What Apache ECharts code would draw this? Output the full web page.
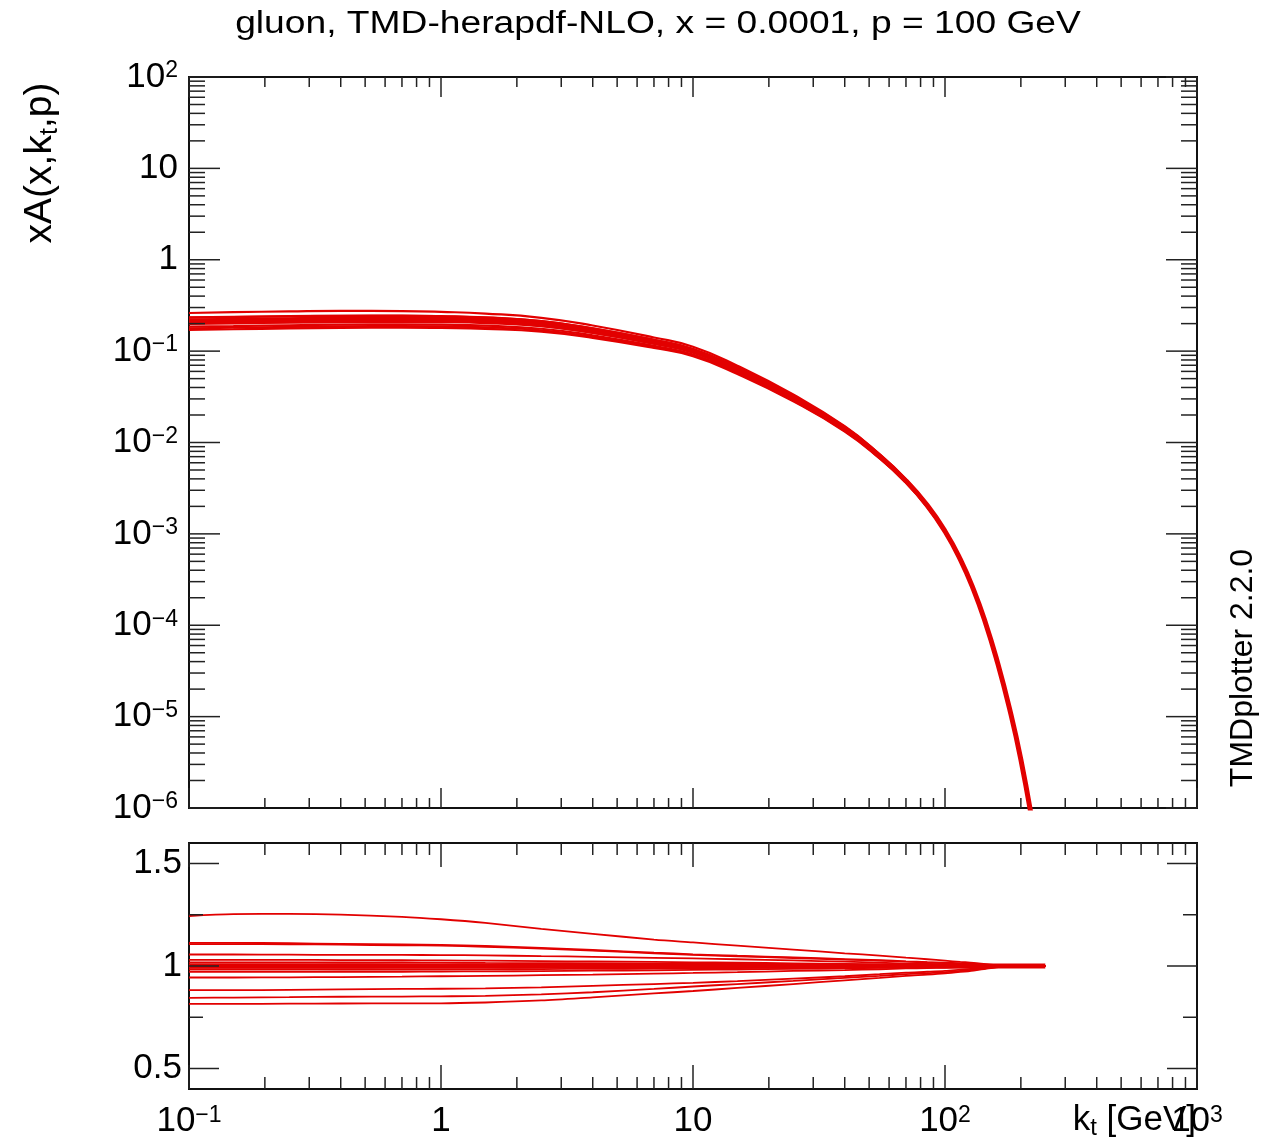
<!DOCTYPE html>
<html>
<head>
<meta charset="utf-8" />
<title>gluon TMD ratio</title>
<script src="https://cdn.jsdelivr.net/npm/echarts@6.0.0/dist/echarts.min.js"></script>
<style>html, body { margin: 0; padding: 0; background: #fff; }</style>
</head>
<body>
<div id="main" style="width:1261px;height:1140px;"></div>
<script type="text/javascript">
// kt grid [GeV] and central member xA(x,kt,p)
var kt = [0.1, 0.15, 0.25, 0.4, 0.7, 1, 1.5, 2.5, 4, 7, 10, 15, 25, 40, 55, 70, 85, 100, 115, 130, 145, 160, 180, 200, 225, 250];
var central = [0.21, 0.213, 0.217, 0.22, 0.221, 0.219, 0.213, 0.196, 0.165, 0.125, 0.1, 0.063, 0.031, 0.0142, 0.0071, 0.0038, 0.00205, 0.00107,
  0.000526, 0.000242, 0.0001047, 0.000043, 0.0000125, 0.00000339, 0.000000566, 0.000000086];

// ratio of each eigenvector member to the central one
var ratioA  = [1.244, 1.253, 1.254, 1.251, 1.24, 1.228, 1.21, 1.181, 1.157, 1.129, 1.115, 1.099, 1.08, 1.062, 1.051, 1.041, 1.033, 1.026, 1.02, 1.015, 1.009, 1.004, 1.001, 1, 1, 1];
var ratioB  = [1.113, 1.113, 1.111, 1.108, 1.105, 1.103, 1.098, 1.088, 1.078, 1.065, 1.057, 1.05, 1.042, 1.034, 1.028, 1.023, 1.019, 1.016, 1.013, 1.01, 1.006, 1.003, 1.001, 1, 1, 1];
var ratioB2 = [1.107, 1.107, 1.106, 1.104, 1.101, 1.099, 1.094, 1.085, 1.075, 1.062, 1.054, 1.047, 1.039, 1.031, 1.026, 1.021, 1.017, 1.014, 1.011, 1.008, 1.005, 1.002, 1, 1, 1, 1];
var ratioC  = [1.056, 1.056, 1.055, 1.054, 1.054, 1.053, 1.052, 1.048, 1.045, 1.04, 1.037, 1.033, 1.027, 1.021, 1.016, 1.012, 1.01, 1.008, 1.006, 1.004, 1.002, 1.001, 1, 1, 1, 1];
var ratioD  = [1.03, 1.03, 1.03, 1.029, 1.028, 1.027, 1.026, 1.024, 1.022, 1.02, 1.018, 1.016, 1.013, 1.01, 1.008, 1.007, 1.006, 1.005, 1.004, 1.003, 1.002, 1.001, 1, 1, 1, 1];
var ratioE  = [1.018, 1.018, 1.018, 1.017, 1.017, 1.016, 1.015, 1.014, 1.013, 1.012, 1.011, 1.01, 1.008, 1.006, 1.005, 1.004, 1.003, 1.003, 1.002, 1.002, 1.001, 1.001, 1, 1, 1, 1];
var ratioF  = [1.008, 1.008, 1.008, 1.008, 1.007, 1.007, 1.007, 1.006, 1.006, 1.005, 1.005, 1.004, 1.004, 1.003, 1.002, 1.002, 1.001, 1.001, 1.001, 1.001, 1, 1, 1, 1, 1, 1];
var ratioG  = [0.991, 0.991, 0.991, 0.991, 0.992, 0.992, 0.992, 0.993, 0.993, 0.994, 0.994, 0.995, 0.996, 0.997, 0.998, 0.998, 0.999, 0.999, 0.999, 0.999, 1, 1, 1, 1, 1, 1];
var ratioH  = [0.982, 0.982, 0.982, 0.982, 0.983, 0.983, 0.984, 0.985, 0.986, 0.987, 0.988, 0.99, 0.991, 0.993, 0.994, 0.995, 0.996, 0.997, 0.997, 0.998, 0.999, 1, 1, 1, 1, 1];
var ratioI  = [0.971, 0.971, 0.971, 0.972, 0.972, 0.973, 0.974, 0.975, 0.977, 0.979, 0.981, 0.983, 0.986, 0.989, 0.991, 0.993, 0.994, 0.995, 0.996, 0.997, 0.998, 0.999, 1, 1, 1, 1];
var ratioJ  = [0.944, 0.944, 0.945, 0.946, 0.948, 0.95, 0.952, 0.955, 0.958, 0.963, 0.966, 0.97, 0.976, 0.98, 0.984, 0.988, 0.99, 0.991, 0.993, 0.995, 0.997, 0.999, 1, 1, 1, 1];
var ratioK  = [0.882, 0.882, 0.884, 0.886, 0.888, 0.889, 0.891, 0.896, 0.903, 0.912, 0.918, 0.926, 0.938, 0.95, 0.96, 0.968, 0.972, 0.976, 0.982, 0.987, 0.992, 0.996, 0.999, 1, 1, 1];
var ratioL  = [0.845, 0.846, 0.848, 0.85, 0.851, 0.852, 0.854, 0.862, 0.872, 0.888, 0.9, 0.912, 0.927, 0.942, 0.952, 0.96, 0.965, 0.969, 0.976, 0.982, 0.989, 0.995, 0.999, 1, 1, 1];
var ratioM  = [0.815, 0.815, 0.816, 0.817, 0.818, 0.818, 0.822, 0.832, 0.847, 0.866, 0.878, 0.893, 0.912, 0.93, 0.942, 0.952, 0.958, 0.964, 0.971, 0.978, 0.986, 0.993, 0.999, 1, 1, 1];
var members = [ratioA, ratioB, ratioB2, ratioC, ratioD, ratioE, ratioF, ratioG, ratioH, ratioI, ratioJ, ratioK, ratioL, ratioM];

var ratioTicks = [[0.5, 1], [0.75, 0], [1, 1], [1.25, 0], [1.5, 1]];

var RED = '#e20000';
var FONT = 'Liberation Sans';

function logTicks(lo, hi) {
  var out = [];
  for (var e = lo; e <= hi; e++) {
    out.push([Math.pow(10, e), 1]);
    if (e < hi) for (var m = 2; m <= 9; m++) out.push([m * Math.pow(10, e), 0]);
  }
  return out;
}

function powLabel(v) {
  var e = Math.round(Math.log10(v));
  if (e === 0) return '{m|1}';
  if (e === 1) return '{m|10}';
  return '{m|10}{s|' + (e < 0 ? '\u2212' : '') + Math.abs(e) + '}';
}

var labelRich = {
  m: { fontSize: 35, fontFamily: FONT, color: '#000' },
  s: { fontSize: 23, fontFamily: FONT, color: '#000', verticalAlign: 'top' }
};

// inside ticks on all four sides of a panel; len = [xMajor, xMinor, yMajor, yMinor]
function tickSeries(gi, xTicks, yTicks, xRef, yRef, len) {
  var data = [];
  xTicks.forEach(function (t) { data.push([t[0], yRef, 0, t[1]]); });
  yTicks.forEach(function (t) { data.push([xRef, t[0], 1, t[1]]); });
  return {
    type: 'custom', xAxisIndex: gi, yAxisIndex: gi, silent: true, z: 10,
    encode: { x: 0, y: 1 },
    data: data,
    renderItem: function (params, api) {
      var cs = params.coordSys;
      var p = api.coord([api.value(0), api.value(1)]);
      var major = api.value(3) === 1;
      var st = { stroke: '#222', lineWidth: 1.5 };
      var a, b, L;
      if (api.value(2) === 0) {
        L = major ? len[0] : len[1];
        a = { x1: p[0], y1: cs.y + cs.height, x2: p[0], y2: cs.y + cs.height - L };
        b = { x1: p[0], y1: cs.y, x2: p[0], y2: cs.y + L };
      } else {
        L = major ? len[2] : len[3];
        a = { x1: cs.x, y1: p[1], x2: cs.x + L, y2: p[1] };
        b = { x1: cs.x + cs.width, y1: p[1], x2: cs.x + cs.width - L, y2: p[1] };
      }
      return { type: 'group', children: [
        { type: 'line', shape: a, style: st },
        { type: 'line', shape: b, style: st }
      ] };
    }
  };
}

var series = [];
members.forEach(function (r, j) {
  series.push({
    name: 'm' + j, type: 'line', xAxisIndex: 0, yAxisIndex: 0,
    showSymbol: false, smooth: 0.5, animation: false,
    lineStyle: { color: RED, width: 2.2 },
    data: kt.map(function (k, i) { return [k, central[i] * r[i]]; })
  });
  series.push({
    name: 'r' + j, type: 'line', xAxisIndex: 1, yAxisIndex: 1,
    showSymbol: false, smooth: 0.3, animation: false,
    lineStyle: { color: RED, width: 1.8 },
    data: kt.map(function (k, i) { return [k, r[i]]; })
  });
});
series.push({
  name: 'central', type: 'line', xAxisIndex: 0, yAxisIndex: 0,
  showSymbol: false, smooth: 0.5, lineStyle: { color: RED, width: 5 },
  data: kt.map(function (k, i) { return [k, central[i]]; })
});
series.push({
  name: 'central ratio', type: 'line', xAxisIndex: 1, yAxisIndex: 1,
  showSymbol: false, smooth: 0.3, lineStyle: { color: RED, width: 5 },
  data: kt.map(function (k) { return [k, 1]; })
});
series.push(tickSeries(0, logTicks(-1, 3), logTicks(-6, 2), 1, 1, [20, 10, 31, 16]));
series.push(tickSeries(1, logTicks(-1, 3), ratioTicks, 1, 1, [24, 12, 30, 14]));

var chart = echarts.init(document.getElementById('main'));
var option = {
  animation: false,
  backgroundColor: '#fff',
  textStyle: { fontFamily: FONT, color: '#000' },
  grid: [
    { left: 189, top: 77, width: 1008, height: 731, show: true, borderColor: '#111', borderWidth: 2, backgroundColor: 'transparent', containLabel: false },
    { left: 189, top: 843, width: 1008, height: 246, show: true, borderColor: '#111', borderWidth: 2, backgroundColor: 'transparent', containLabel: false }
  ],
  xAxis: [
    { gridIndex: 0, type: 'log', logBase: 10, min: 0.1, max: 1000,
      axisLine: { show: false }, axisTick: { show: false }, splitLine: { show: false },
      axisLabel: { show: false } },
    { gridIndex: 1, type: 'log', logBase: 10, min: 0.1, max: 1000,
      axisLine: { show: false }, axisTick: { show: false }, splitLine: { show: false },
      axisLabel: { show: true, margin: 15, formatter: powLabel, rich: labelRich,
        showMinLabel: true, showMaxLabel: true, interval: 0 } }
  ],
  yAxis: [
    { gridIndex: 0, type: 'log', logBase: 10, min: 1e-6, max: 100,
      axisLine: { show: false }, axisTick: { show: false }, splitLine: { show: false },
      axisLabel: { show: true, margin: 11, formatter: powLabel, rich: labelRich,
        showMinLabel: true, showMaxLabel: true, interval: 0 } },
    { gridIndex: 1, type: 'value', min: 0.4, max: 1.6, interval: 0.1,
      axisLine: { show: false }, axisTick: { show: false }, splitLine: { show: false },
      axisLabel: { show: true, margin: 7, interval: 0, fontSize: 35, color: '#000',
        formatter: function (v) {
          if (Math.abs(v - 0.5) < 1e-6) return '0.5';
          if (Math.abs(v - 1) < 1e-6) return '1';
          if (Math.abs(v - 1.5) < 1e-6) return '1.5';
          return '';
        } } }
  ],
  graphic: [
    { type: 'text', x: 658, y: 24, scaleX: 1.2, silent: true,
      style: { text: 'gluon, TMD-herapdf-NLO, x = 0.0001, p = 100 GeV', fontSize: 31, fontFamily: FONT,
        fill: '#000', align: 'center', verticalAlign: 'middle', textAlign: 'center', textVerticalAlign: 'middle' } },
    { type: 'text', x: 40, y: 163, rotation: Math.PI / 2, silent: true,
      style: { text: 'xA(x,k{t|t},p)', fontSize: 39, fontFamily: FONT, fill: '#000',
        align: 'center', verticalAlign: 'middle', textAlign: 'center', textVerticalAlign: 'middle',
        rich: { t: { fontSize: 25, fontFamily: FONT, fill: '#000', verticalAlign: 'top', padding: [20, 0, 0, 0] } } } },
    { type: 'text', x: 1243, y: 668, rotation: Math.PI / 2, silent: true,
      style: { text: 'TMDplotter 2.2.0', fontSize: 32, fontFamily: FONT, fill: '#000',
        align: 'center', verticalAlign: 'middle', textAlign: 'center', textVerticalAlign: 'middle' } },
    { type: 'text', x: 1196, y: 1120, silent: true,
      style: { text: 'k{t|t} [GeV]', fontSize: 35, fontFamily: FONT, fill: '#000',
        align: 'right', verticalAlign: 'middle', textAlign: 'right', textVerticalAlign: 'middle',
        rich: { t: { fontSize: 24, fontFamily: FONT, fill: '#000', verticalAlign: 'top', padding: [17, 0, 0, 0] } } } }
  ],
  series: series
};
chart.setOption(option);
</script>
</body>
</html>
